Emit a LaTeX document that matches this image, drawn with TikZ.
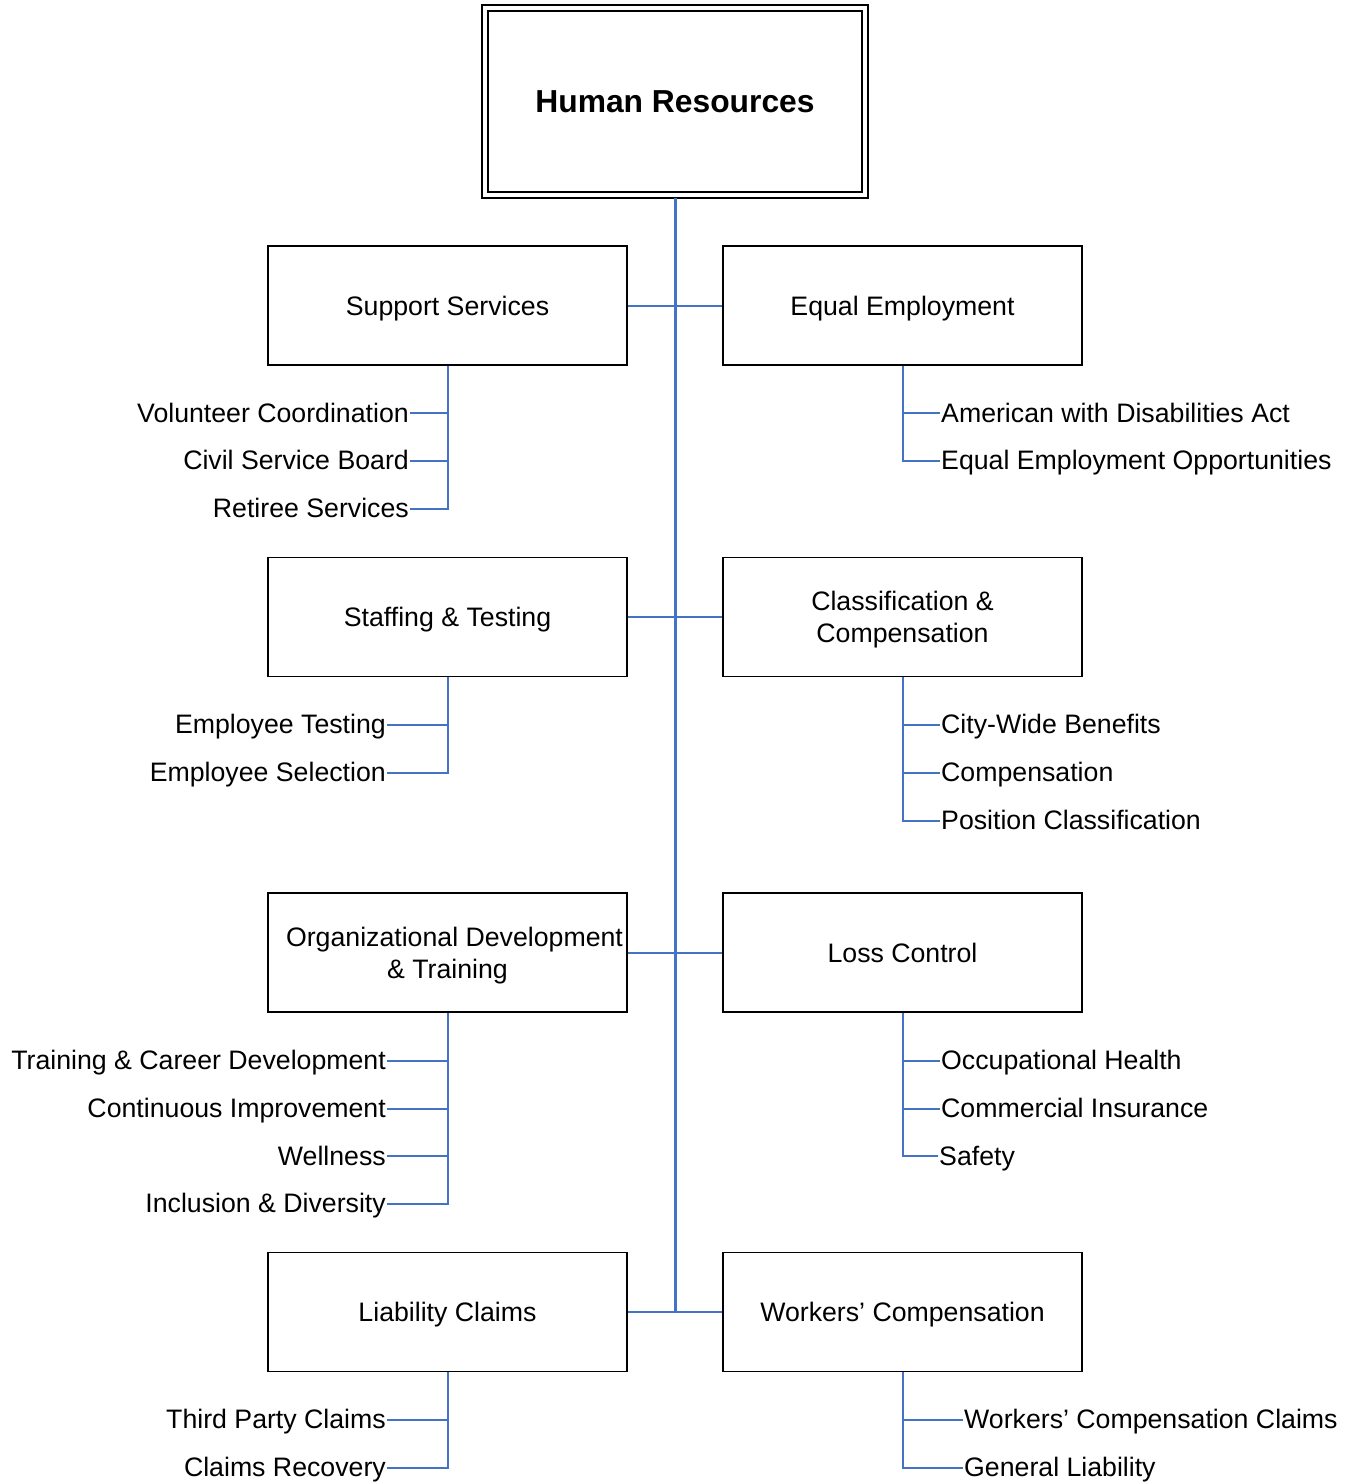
\documentclass[tikz,border=0pt]{standalone}
\usepackage{fontspec}
\setmainfont{Liberation Sans}
\definecolor{lb}{RGB}{68,114,196}
\begin{document}
\begin{tikzpicture}[x=1pt,y=-1pt,
  box/.style={draw,line width=1.8pt,minimum width=359pt,minimum height=119pt,align=center,font=\fontsize{26.7}{32}\selectfont,inner sep=0pt,text depth=0pt},
  li/.style={font=\fontsize{26.7}{32}\selectfont,text height=22pt,text depth=4pt,inner sep=1pt},
  lft/.style={li,anchor=east},
  rgt/.style={li,anchor=west},
  trunk/.style={draw=lb,line width=3pt},
  br/.style={draw=lb,line width=2pt}]
\useasboundingbox (0,0) rectangle (1346,1483);
% top box
\node[draw,line width=1.8pt,minimum width=374pt,minimum height=181pt,inner sep=0pt,font=\bfseries\fontsize{31.8}{36}\selectfont] (hr) at (675,101.5) {Human Resources};
\draw[line width=1.8pt] ([shift={(-5,-5)}]hr.north west) rectangle ([shift={(5,5)}]hr.south east);
% boxes
\node[box] (ss) at (447.5,305.5) {Support Services};
\node[box] (ee) at (902.5,305.5) {Equal Employment};
\node[box] (st) at (447.5,617) {Staffing \& Testing};
\node[box] (cc) at (902.5,617) {Classification \&\\Compensation};
\node[box] (od) at (447.5,952.5) {\hspace*{14pt}Organizational Development\\\& Training};
\node[box] (lc) at (902.5,952.5) {Loss Control};
\node[box] (lcl) at (447.5,1312) {Liability Claims};
\node[box] (wc) at (902.5,1312) {Workers’ Compensation};
% trunk
\coordinate (tend) at (675,1312);
\draw[trunk] ([yshift=-5pt]hr.south) -- (tend);
\draw[br] (ss.east) -- (ee.west);
\draw[br] (st.east) -- (cc.west);
\draw[br] (od.east) -- (lc.west);
\draw[br] (lcl.east) -- (wc.west);
% items row 1
\node[lft] (a1) at (410,413) {Volunteer Coordination};
\node[lft] (a2) at (410,460.5) {Civil Service Board};
\node[lft] (a3) at (410,508.5) {Retiree Services};
\node[rgt] (b1) at (940,413) {American with Disabilities Act};
\node[rgt] (b2) at (940,460.5) {Equal Employment Opportunities};
% row 2
\node[lft] (c1) at (387,724.5) {Employee Testing};
\node[lft] (c2) at (387,772.5) {Employee Selection};
\node[rgt] (d1) at (940,724.5) {City-Wide Benefits};
\node[rgt] (d2) at (940,772.5) {Compensation};
\node[rgt] (d3) at (940,820.5) {Position Classification};
% row 3
\node[lft] (e1) at (387,1060.5) {Training \& Career Development};
\node[lft] (e2) at (387,1108.5) {Continuous Improvement};
\node[lft] (e3) at (387,1156) {Wellness};
\node[lft] (e4) at (387,1203.5) {Inclusion \& Diversity};
\node[rgt] (f1) at (940,1060.5) {Occupational Health};
\node[rgt] (f2) at (940,1108.5) {Commercial Insurance};
\node[rgt] (f3) at (938,1156) {Safety};
% row 4
\node[lft] (g1) at (387,1419.5) {Third Party Claims};
\node[lft] (g2) at (387,1467.5) {Claims Recovery};
\node[rgt] (h1) at (963,1419.5) {Workers’ Compensation Claims};
\node[rgt] (h2) at (963,1467.5) {General Liability};
% brackets
\foreach \n in {a1,a2,a3} \draw[br] (ss.south) |- (\n.east);
\foreach \n in {b1,b2} \draw[br] (ee.south) |- (\n.west);
\foreach \n in {c1,c2} \draw[br] (st.south) |- (\n.east);
\foreach \n in {d1,d2,d3} \draw[br] (cc.south) |- (\n.west);
\foreach \n in {e1,e2,e3,e4} \draw[br] (od.south) |- (\n.east);
\foreach \n in {f1,f2,f3} \draw[br] (lc.south) |- (\n.west);
\foreach \n in {g1,g2} \draw[br] (lcl.south) |- (\n.east);
\foreach \n in {h1,h2} \draw[br] (wc.south) |- (\n.west);
\end{tikzpicture}
\end{document}
